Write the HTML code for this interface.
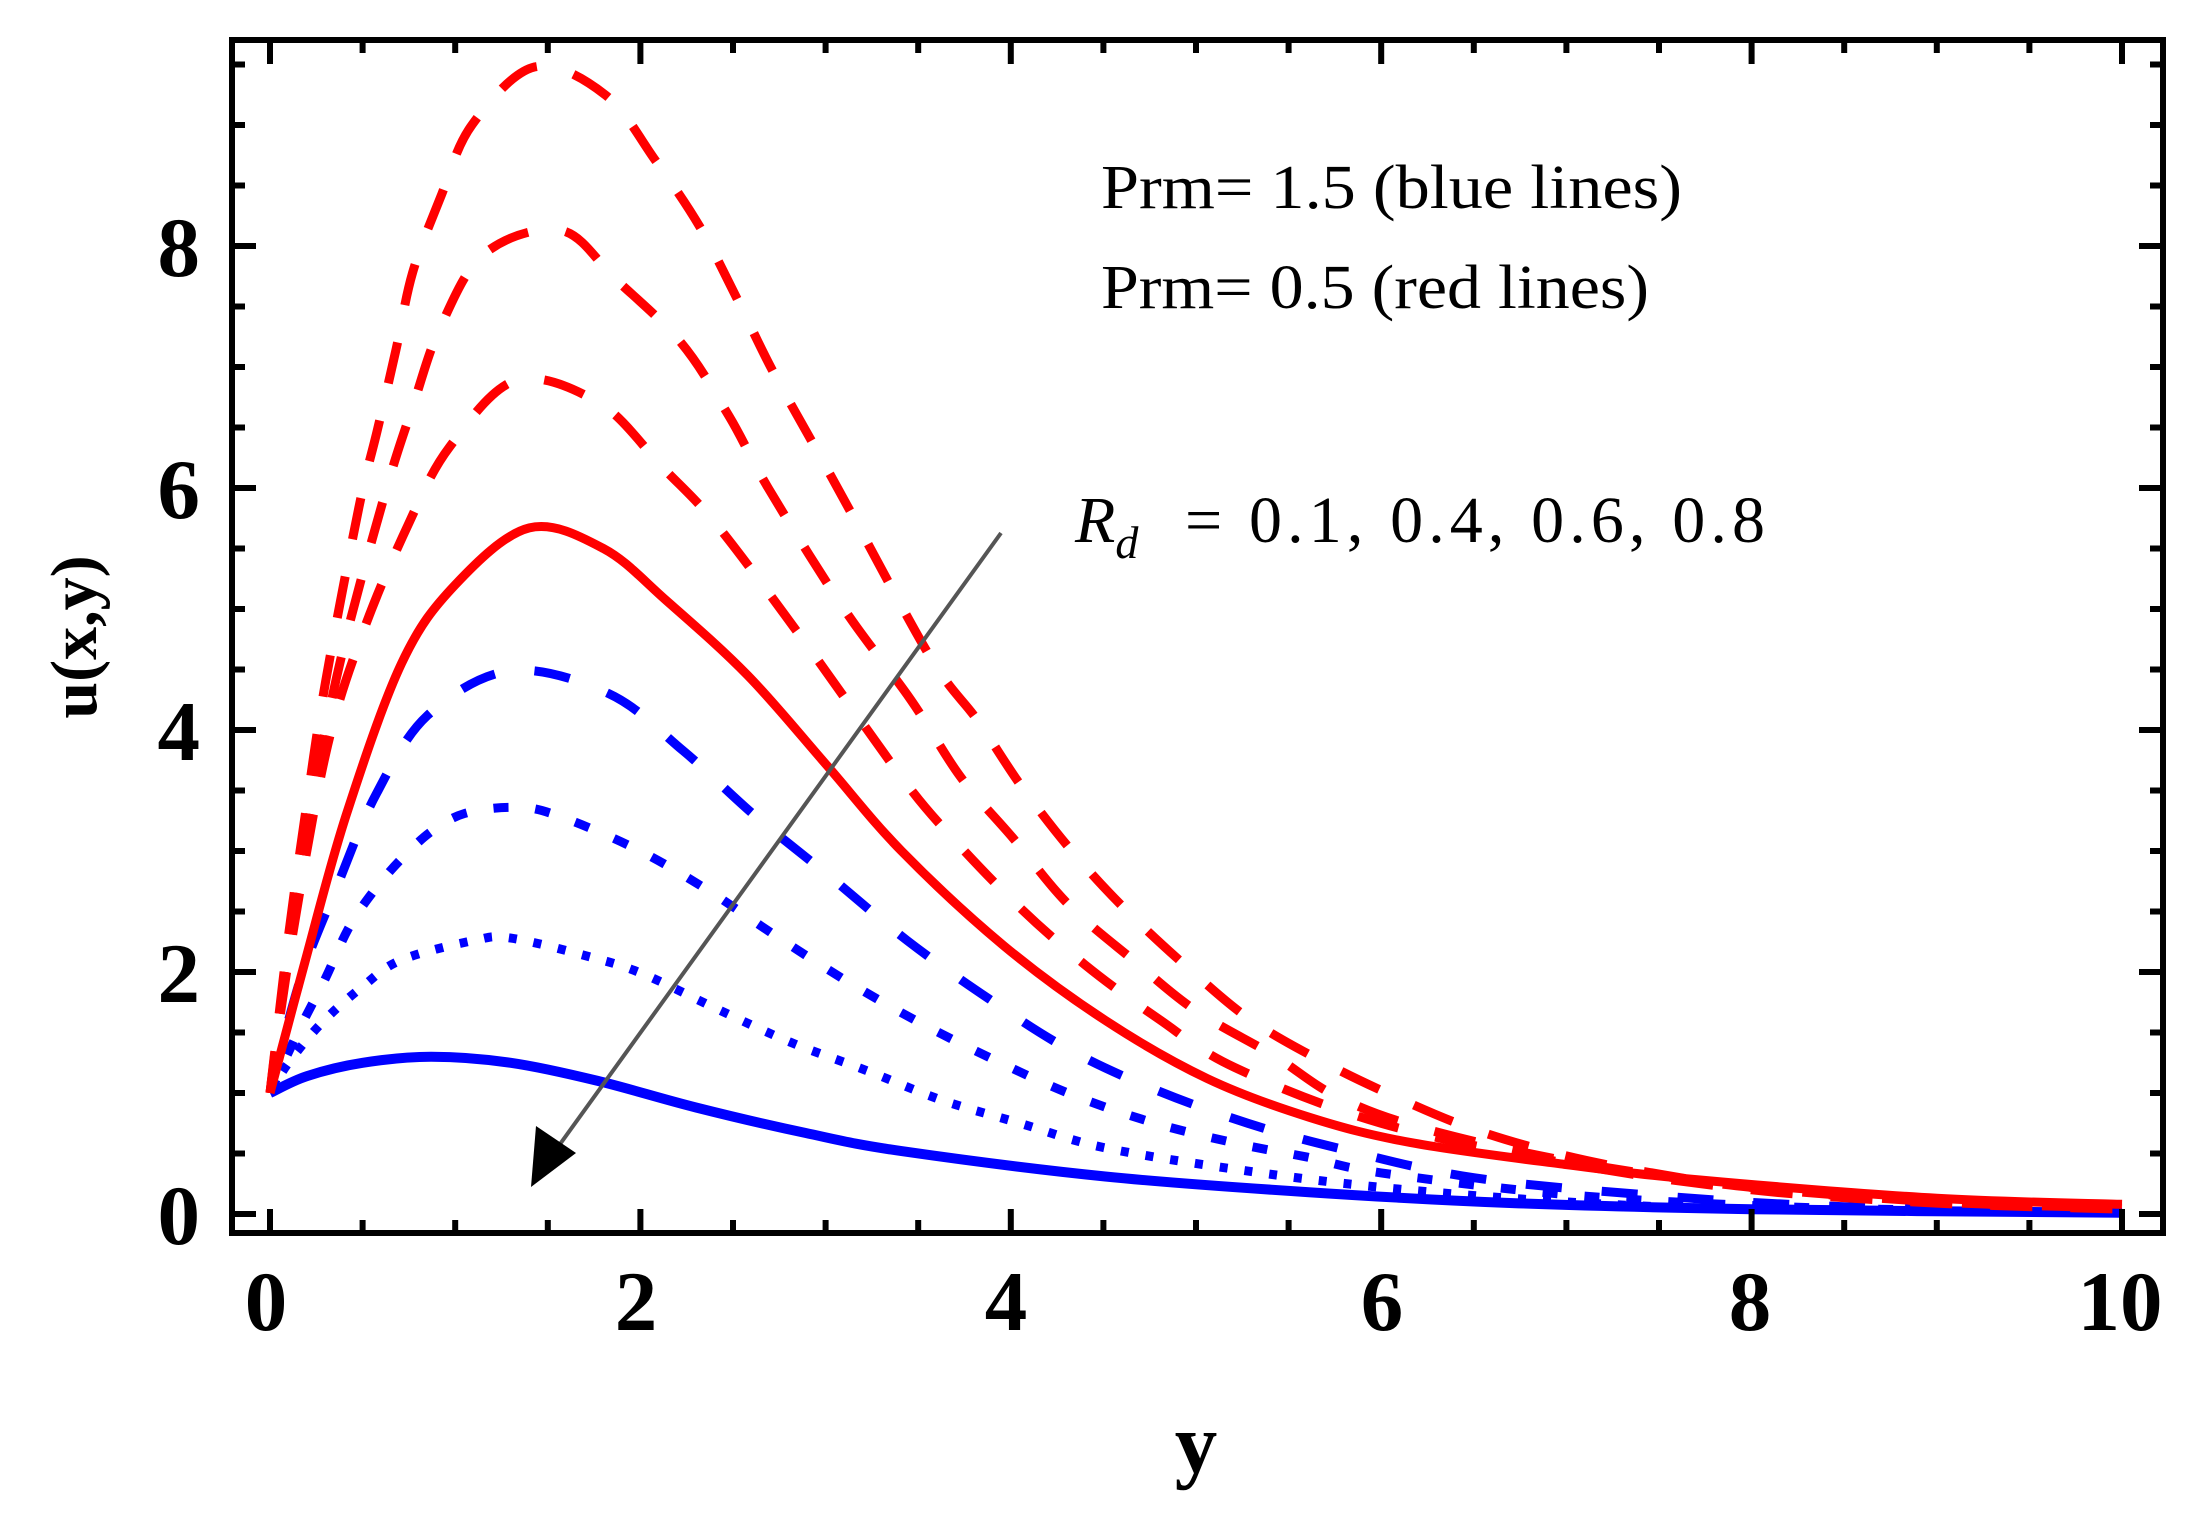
<!DOCTYPE html>
<html><head><meta charset="utf-8"><style>
html,body{margin:0;padding:0;background:#fff;}
svg{display:block;}
.tk{font-family:"Liberation Serif",serif;font-weight:bold;font-size:85px;fill:#000;}
.lg{font-family:"Liberation Serif",serif;font-size:62px;fill:#000;}
</style></head><body>
<svg id="s" width="2202" height="1525" viewBox="0 0 2202 1525" xmlns="http://www.w3.org/2000/svg">
<rect width="2202" height="1525" fill="#fff"/>
<defs><clipPath id="cp"><rect x="233" y="42" width="1928" height="1188"/></clipPath></defs>
<g id="curves" clip-path="url(#cp)"></g>
<g id="ticks" stroke="#000" fill="none"></g>
<rect x="232" y="40" width="1931" height="1193" fill="none" stroke="#000" stroke-width="6"/>
<g class="tk" text-anchor="middle">
<text x="266" y="1330">0</text><text x="636" y="1330">2</text><text x="1006" y="1330">4</text>
<text x="1382" y="1330">6</text><text x="1750" y="1330">8</text><text x="2120" y="1330">10</text>
</g>
<g class="tk" text-anchor="end">
<text x="200" y="1244">0</text><text x="200" y="1002">2</text><text x="200" y="760">4</text>
<text x="200" y="518">6</text><text x="200" y="276">8</text>
</g>
<text class="tk" x="1196" y="1472" text-anchor="middle">y</text>
<text class="tk" style="font-size:66px" transform="translate(96,637) rotate(-90)" text-anchor="middle">u(x,y)</text>
<text class="lg" x="1101" y="208" textLength="581" lengthAdjust="spacingAndGlyphs">Prm= 1.5 (blue lines)</text>
<text class="lg" x="1101" y="308" textLength="548" lengthAdjust="spacingAndGlyphs">Prm= 0.5 (red lines)</text>
<text class="lg" x="1075" y="542" style="font-size:66px"><tspan font-style="italic">R</tspan><tspan font-style="italic" font-size="46" dy="16">d</tspan></text>
<text class="lg" x="1185" y="542" style="font-size:66px" textLength="580" lengthAdjust="spacing">= 0.1, 0.4, 0.6, 0.8</text>
<line x1="1001" y1="533" x2="550" y2="1158" stroke="#555" stroke-width="4"/>
<polygon points="531,1187 536,1126 576,1153" fill="#000"/>
</svg>
<script>
var X=function(x){return 270+185.2*x;},Y=function(u){return 1214-121*u;};
function path(pts){var p=pts.map(function(a){return [X(a[0]),Y(a[1])];});
var d="M"+p[0][0].toFixed(1)+","+p[0][1].toFixed(1);
for(var i=0;i<p.length-1;i++){var p0=p[i-1]||p[i],p1=p[i],p2=p[i+1],p3=p[i+2]||p2;
var c1=[p1[0]+(p2[0]-p0[0])/6,p1[1]+(p2[1]-p0[1])/6],c2=[p2[0]-(p3[0]-p1[0])/6,p2[1]-(p3[1]-p1[1])/6];
d+="C"+c1[0].toFixed(1)+","+c1[1].toFixed(1)+" "+c2[0].toFixed(1)+","+c2[1].toFixed(1)+" "+p2[0].toFixed(1)+","+p2[1].toFixed(1);}
return d;}
var R="#ff0000",B="#0000ff";
var C=[
[B,10,"",[[0,1],[0.2,1.14],[0.5,1.25],[0.87,1.3],[1.3,1.25],[1.77,1.1],[2.3,0.88],[2.89,0.67],[3.41,0.52],[4.51,0.31],[5.61,0.18],[6.71,0.09],[8,0.04],[10,0.01]]],
[B,9,"8 17",[[0,1],[0.1,1.25],[0.28,1.58],[0.5,1.88],[0.71,2.1],[1.1,2.26],[1.3,2.28],[1.74,2.12],[2.02,1.98],[2.42,1.69],[2.81,1.42],[3.23,1.18],[3.63,0.94],[4.05,0.75],[4.5,0.55],[5.21,0.37],[6,0.22],[7,0.1],[8,0.04],[10,0.01]]],
[B,9,"15 27",[[0,1],[0.15,1.5],[0.3,1.95],[0.42,2.35],[0.55,2.65],[0.7,2.92],[0.87,3.16],[1.05,3.31],[1.3,3.36],[1.52,3.31],[1.96,3.03],[2.35,2.69],[2.73,2.3],[3.12,1.92],[3.51,1.58],[3.93,1.26],[4.34,0.98],[4.78,0.75],[5.23,0.58],[5.6,0.47],[6,0.34],[7,0.16],[8,0.07],[9,0.03],[10,0.01]]],
[B,9,"36 40",[[0,1],[0.1,1.6],[0.2,2.1],[0.37,2.74],[0.57,3.46],[0.85,4.12],[1.3,4.49],[1.83,4.3],[2.23,3.83],[2.62,3.29],[3.03,2.78],[3.44,2.26],[3.88,1.78],[4.3,1.37],[4.76,1.04],[5.28,0.75],[5.78,0.54],[6.5,0.3],[7.5,0.15],[8.5,0.06],[10,0.01]]],
[R,9,"",[[0,1],[0.19,2.09],[0.41,3.29],[0.71,4.55],[1.0,5.2],[1.4,5.67],[1.8,5.5],[2.14,5.07],[2.58,4.45],[3.0,3.72],[3.41,3.0],[3.96,2.22],[4.51,1.6],[5.06,1.12],[5.61,0.8],[6.16,0.59],[6.99,0.41],[7.73,0.28],[9,0.13],[10,0.08]]],
[R,9,"42 38",[[0,1],[0.1,2.1],[0.3,3.8],[0.5,4.8],[0.75,5.71],[0.97,6.34],[1.33,6.89],[1.78,6.7],[2.12,6.17],[2.42,5.68],[2.9,4.7],[3.41,3.61],[3.66,3.15],[4.03,2.56],[4.4,2.06],[4.8,1.61],[5.21,1.21],[6,0.75],[7,0.42],[8,0.2],[9,0.09],[10,0.04]]],
[R,9,"42 38",[[0,1],[0.1,2.2],[0.25,3.6],[0.4,4.7],[0.63,6.0],[0.77,6.67],[0.92,7.33],[1.16,7.94],[1.57,8.13],[1.87,7.72],[2.22,7.2],[2.48,6.59],[2.69,6.0],[3.1,5.0],[3.46,4.25],[3.73,3.61],[4.01,3.11],[4.31,2.56],[4.66,2.1],[5.0,1.68],[5.42,1.31],[5.75,0.98],[6.2,0.72],[7,0.44],[8,0.22],[9,0.1],[10,0.05]]],
[R,9,"42 38",[[0,1],[0.1,2.3],[0.2,3.4],[0.3,4.4],[0.48,5.84],[0.58,6.48],[0.68,7.14],[0.77,7.78],[0.92,8.4],[1.09,9.0],[1.43,9.48],[1.81,9.25],[2.08,8.71],[2.32,8.16],[2.52,7.57],[2.71,6.98],[2.92,6.4],[3.14,5.79],[3.57,4.59],[3.82,4.08],[4.06,3.53],[4.34,2.98],[4.63,2.5],[4.96,2.03],[5.29,1.61],[5.67,1.27],[6.06,0.98],[6.5,0.7],[7,0.48],[7.5,0.33],[8,0.22],[9,0.1],[10,0.05]]]
];
var g=document.getElementById("curves"),ns="http://www.w3.org/2000/svg";
C.forEach(function(c){var e=document.createElementNS(ns,"path");e.setAttribute("d",path(c[3]));
e.setAttribute("fill","none");e.setAttribute("stroke",c[0]);e.setAttribute("stroke-width",c[1]);
if(c[2])e.setAttribute("stroke-dasharray",c[2]);g.appendChild(e);});
var t=document.getElementById("ticks"),d="";
for(var i=0;i<=20;i++){var x=X(i*0.5),L=(i%4==0)?24:13;
d+="M"+x+",1233v-"+L+"M"+x+",40v"+L;}
for(var j=0;j<=19;j++){var y=Y(j*0.5),L2=(j%4==0)?24:13;
d+="M232,"+y+"h"+L2+"M2163,"+y+"h-"+L2;}
var tp=document.createElementNS(ns,"path");tp.setAttribute("d",d);tp.setAttribute("stroke-width","6");t.appendChild(tp);
</script>
</body></html>
